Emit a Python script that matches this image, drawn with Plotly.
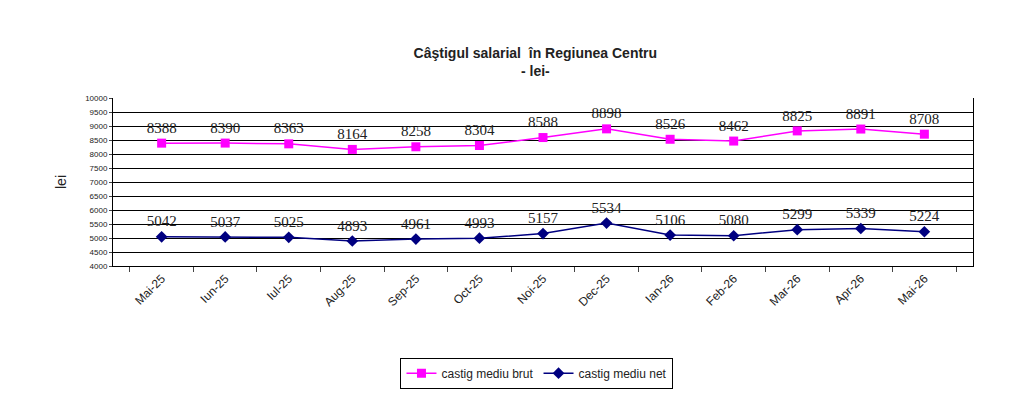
import plotly.graph_objects as go

months = ['Mai-25', 'Iun-25', 'Iul-25', 'Aug-25', 'Sep-25', 'Oct-25', 'Noi-25',
          'Dec-25', 'Ian-26', 'Feb-26', 'Mar-26', 'Apr-26', 'Mai-26']
brut = [8388, 8390, 8363, 8164, 8258, 8304, 8588, 8898, 8526, 8462, 8825, 8891, 8708]
net = [5042, 5037, 5025, 4893, 4961, 4993, 5157, 5534, 5106, 5080, 5299, 5339, 5224]

fig = go.Figure()
fig.add_trace(go.Scatter(x=months, y=brut, name='castig mediu brut', mode='lines+markers+text',
                         line=dict(color='#ff00ff', width=1.5),
                         marker=dict(symbol='square', size=9, color='#ff00ff'),
                         text=[str(v) for v in brut], textposition='top center',
                         textfont=dict(family='Liberation Serif', size=15, color='#222')))
fig.add_trace(go.Scatter(x=months, y=net, name='castig mediu net', mode='lines+markers+text',
                         line=dict(color='#000080', width=1.5),
                         marker=dict(symbol='diamond', size=9, color='#000080'),
                         text=[str(v) for v in net], textposition='top center',
                         textfont=dict(family='Liberation Serif', size=15, color='#222')))

fig.update_layout(
    width=1024, height=417, paper_bgcolor='white', plot_bgcolor='white',
    margin=dict(l=105, r=59, t=90, b=159),
    font=dict(family='Liberation Sans', color='#222'),
    title=dict(text='<b>Câştigul salarial  în Regiunea Centru<br>- lei-</b>',
               x=0.515, xanchor='center', y=0.88, yanchor='top', font=dict(size=14)),
    legend=dict(orientation='h', x=0.493, xanchor='center', y=-0.73, yanchor='bottom',
                bordercolor='black', borderwidth=1, font=dict(size=12)),
    showlegend=True,
)
fig.update_yaxes(range=[4000, 10000], dtick=500, tickformat='d', showgrid=True, gridcolor='black',
                 gridwidth=1, showline=True, linecolor='black', ticks='outside', ticklen=3,
                 tickfont=dict(size=8), title=dict(text='lei', font=dict(size=14)),
                 zeroline=False, mirror=True)
fig.update_xaxes(showline=True, linecolor='black', ticks='outside', tickson='boundaries', ticklen=5,
                 tickangle=-45, tickfont=dict(size=12), showgrid=False)

fig.write_html('out.html')
